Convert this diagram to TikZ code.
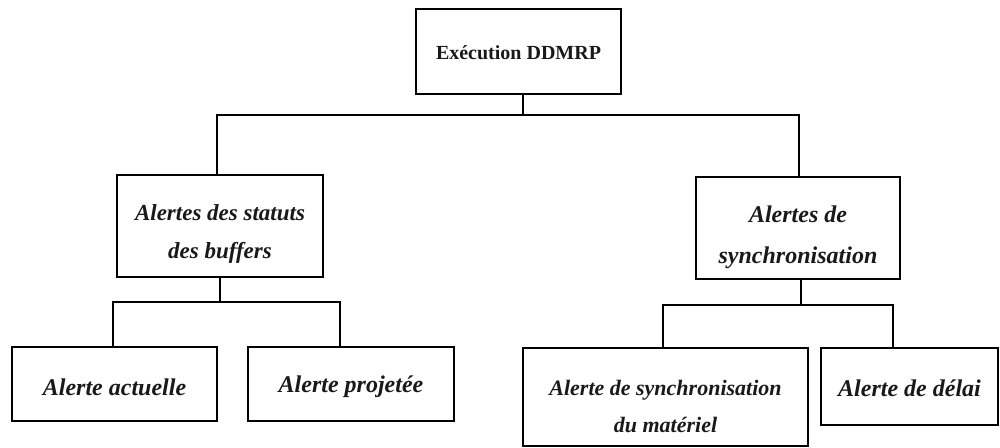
\documentclass[tikz,border=0pt]{standalone}
\usepackage{fontspec}
\setmainfont{Liberation Serif}
\begin{document}
\begin{tikzpicture}[x=1pt,y=-1pt,
  box/.style={draw=black,line width=1.8pt,inner sep=0pt,fill=white},
  txt/.style={inner sep=0pt,align=center,text=black!90},
  lbl/.style={txt,font=\fontsize{24}{41}\selectfont\bfseries\itshape},
  conn/.style={draw=black,line width=2pt}]
\useasboundingbox (0,0) rectangle (1000,447);
\node[box,minimum width=205pt,minimum height=85pt] (top) at (518.5,51.5) {};
\node[txt,font=\fontsize{20}{24}\selectfont\bfseries] (topt) at ([yshift=-1pt]top.center) {Exécution DDMRP};
\node[box,minimum width=206pt,minimum height=102pt] (m1) at (220,226) {};
\node[txt,font=\fontsize{23}{38}\selectfont\bfseries\itshape] (m1t) at ([yshift=-8pt]m1.center) {Alertes des statuts\\des buffers};
\node[box,minimum width=204pt,minimum height=102pt] (m2) at (798,228) {};
\node[lbl] (m2t) at ([yshift=-9pt]m2.center) {Alertes de\\synchronisation};
\node[box,minimum width=205pt,minimum height=74pt] (b1) at (114.5,384) {};
\node[lbl] (b1t) at ([yshift=-3pt]b1.center) {Alerte actuelle};
\node[box,minimum width=206pt,minimum height=74pt] (b2) at (351,384) {};
\node[lbl] (b2t) at ([yshift=-3pt]b2.center) {Alerte projetée};
\node[box,minimum width=285pt,minimum height=98pt] (b3) at (665.5,397) {};
\node[txt,font=\fontsize{22}{37}\selectfont\bfseries\itshape] (b3t) at ([yshift=-9pt]b3.center) {Alerte de synchronisation\\du matériel};
\node[box,minimum width=177pt,minimum height=77pt] (b4) at (909.5,386.5) {};
\node[lbl] (b4t) at ([yshift=-2pt]b4.center) {Alerte de délai};
\coordinate (j0) at (523,115);
\coordinate (j1) at (220,302);
\coordinate (j2) at (801,305);
\draw[conn] ([xshift=4.5pt]top.south) -- (j0);
\draw[conn] ([xshift=-3pt]m1.north) |- (j0) -| ([xshift=1pt]m2.north);
\draw[conn] (m1.south) -- (j1);
\draw[conn] ([xshift=-1.5pt]b1.north) |- (j1) -| ([xshift=-11pt]b2.north);
\draw[conn] ([xshift=3pt]m2.south) -- (j2);
\draw[conn] ([xshift=-2.5pt]b3.north) |- (j2) -| ([xshift=-16.5pt]b4.north);
\end{tikzpicture}
\end{document}
